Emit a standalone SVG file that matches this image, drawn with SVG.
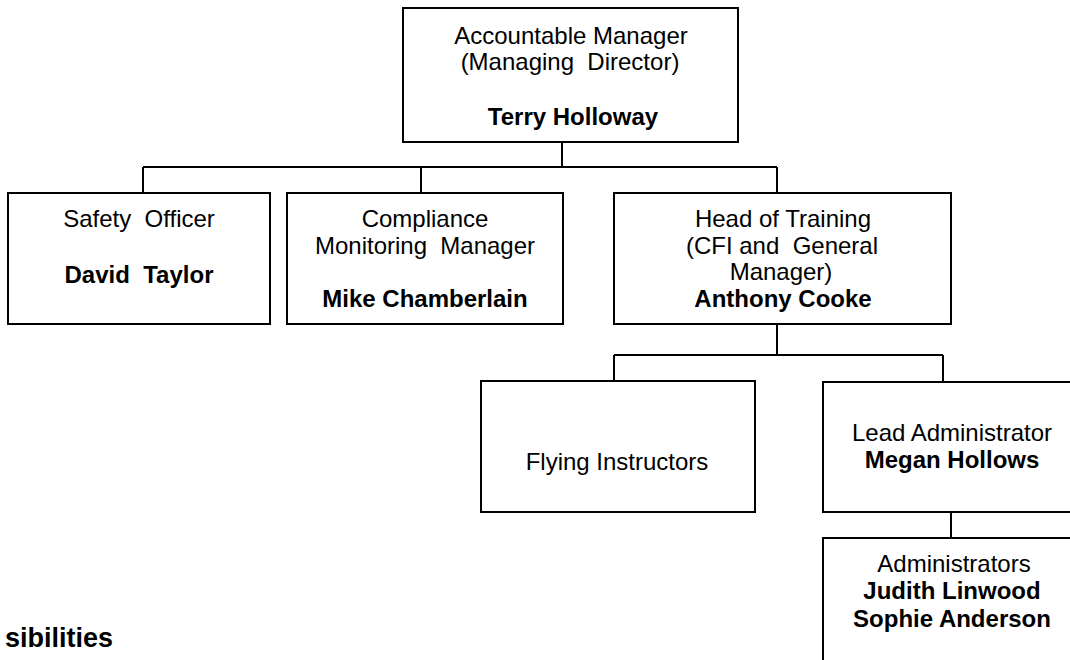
<svg xmlns="http://www.w3.org/2000/svg" width="1070" height="660" viewBox="0 0 1070 660">
<style>
.box{fill:#fff;stroke:#000;stroke-width:2}
.ln{fill:none;stroke:#000;stroke-width:2}
text{font-family:"Liberation Sans",Arial,sans-serif;font-size:24px;fill:#000;text-anchor:middle}
.b{font-weight:bold}
</style>
<rect width="1070" height="660" fill="#fff"/>
<g id="connectors">
<path class="ln" d="M562 142V167M143 167H777M143 167V193M421 167V193M777 167V193"/>
<path class="ln" d="M777 324V355M614 355H943M614 355V381M943 355V382"/>
<path class="ln" d="M951 512V538"/>
</g>
<g id="accountable-manager">
<rect class="box" x="403" y="8" width="335" height="134"/>
<text x="571" y="44">Accountable Manager</text>
<text x="570" y="70" xml:space="preserve">(Managing  Director)</text>
<text class="b" x="573" y="125">Terry Holloway</text>
</g>
<g id="safety-officer">
<rect class="box" x="8" y="193" width="262" height="131"/>
<text x="139" y="227" xml:space="preserve">Safety  Officer</text>
<text class="b" x="139" y="283" xml:space="preserve">David  Taylor</text>
</g>
<g id="compliance-manager">
<rect class="box" x="287" y="193" width="276" height="131"/>
<text x="425" y="227">Compliance</text>
<text x="425" y="254" xml:space="preserve">Monitoring  Manager</text>
<text class="b" x="425" y="307">Mike Chamberlain</text>
</g>
<g id="head-of-training">
<rect class="box" x="614" y="193" width="337" height="131"/>
<text x="783" y="227">Head of Training</text>
<text x="782" y="254" xml:space="preserve">(CFI and  General</text>
<text x="781" y="280">Manager)</text>
<text class="b" x="783" y="307">Anthony Cooke</text>
</g>
<g id="flying-instructors">
<rect class="box" x="481" y="381" width="274" height="131"/>
<text x="617" y="470">Flying Instructors</text>
</g>
<g id="lead-administrator">
<rect class="box" x="823" y="382" width="260" height="130"/>
<text x="952" y="441">Lead Administrator</text>
<text class="b" x="952" y="468">Megan Hollows</text>
</g>
<g id="administrators">
<rect class="box" x="823" y="538" width="260" height="140"/>
<text x="954" y="572">Administrators</text>
<text class="b" x="952" y="599">Judith Linwood</text>
<text class="b" x="952" y="627">Sophie Anderson</text>
</g>
<text class="b" x="113" y="647" style="text-anchor:end;font-size:27px">sibilities</text>
</svg>
